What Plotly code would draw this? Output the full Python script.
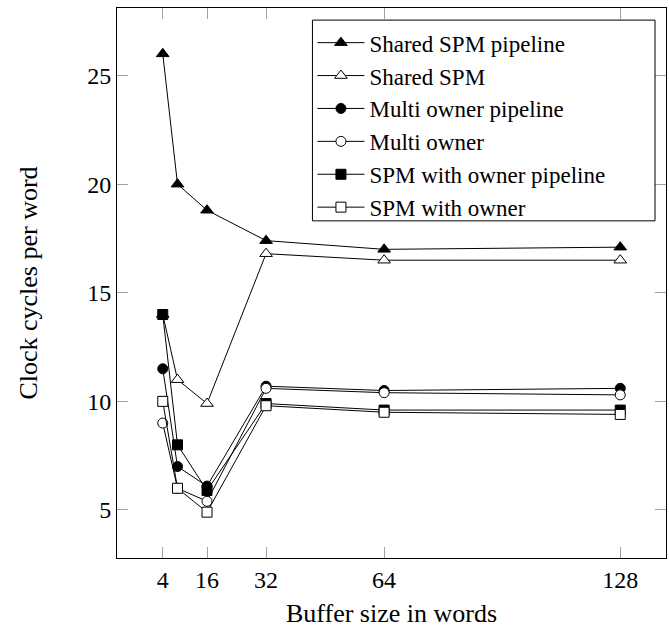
import plotly.graph_objects as go

buffer_sizes = [4, 8, 16, 32, 64, 128]
x_ticks = [4, 16, 32, 64, 128]
y_ticks = [5, 10, 15, 20, 25]

shared_spm_pipeline = [26.0, 20.0, 18.8, 17.4, 17.0, 17.1]
shared_spm = [14.0, 11.0, 9.9, 16.8, 16.5, 16.5]
multi_owner_pipeline = [11.5, 7.0, 6.1, 10.7, 10.5, 10.6]
multi_owner = [9.0, 6.0, 5.4, 10.6, 10.4, 10.3]
spm_owner_pipeline = [14.0, 8.0, 5.9, 9.9, 9.6, 9.6]
spm_owner = [10.0, 6.0, 4.9, 9.8, 9.5, 9.4]

series = [
    ("Shared SPM pipeline", shared_spm_pipeline, "triangle-up", True),
    ("Shared SPM", shared_spm, "triangle-up", False),
    ("Multi owner pipeline", multi_owner_pipeline, "circle", True),
    ("Multi owner", multi_owner, "circle", False),
    ("SPM with owner pipeline", spm_owner_pipeline, "square", True),
    ("SPM with owner", spm_owner, "square", False),
]

fig = go.Figure()
for name, vals, sym, filled in series:
    size = 11 if sym == "triangle-up" else 10
    fig.add_trace(go.Scatter(
        x=buffer_sizes, y=vals, name=name, mode="lines+markers",
        line=dict(color="black", width=1),
        marker=dict(symbol=sym, size=size,
                    color="black" if filled else "white",
                    line=dict(color="black", width=1)),
    ))

SERIF = "Liberation Serif"

# legend frame drawn as a decoration box (paper coordinates)
fig.add_shape(type="rect", xref="paper", yref="paper",
              x0=0.356, x1=0.980, y0=0.613, y1=0.978,
              line=dict(color="black", width=1), fillcolor="white", layer="above")

fig.update_layout(
    width=669, height=628,
    margin=dict(l=117, r=3, t=8, b=70),
    paper_bgcolor="white", plot_bgcolor="white",
    font=dict(family=SERIF, size=24, color="black"),
    showlegend=True,
    legend=dict(
        x=0.356, y=0.976, xanchor="left", yanchor="top",
        bgcolor="rgba(0,0,0,0)", borderwidth=0,
        font=dict(family=SERIF, size=23, color="black"),
        itemwidth=47, tracegroupgap=0,
    ),
    xaxis=dict(
        range=[-8.4, 140.4], tickvals=x_ticks, ticktext=[str(v) for v in x_ticks],
        showgrid=False, zeroline=False,
        showline=True, linecolor="black", linewidth=1, mirror="ticks",
        ticks="inside", ticklen=11, tickcolor="#a0a0a0", tickwidth=1,
        tickfont=dict(family=SERIF, size=24, color="black"),
        title=dict(text="Buffer size in words", font=dict(family=SERIF, size=26, color="black"), standoff=12),
    ),
    yaxis=dict(
        range=[2.79, 28.11], tickvals=y_ticks, ticktext=[str(v) for v in y_ticks],
        showgrid=False, zeroline=False,
        showline=True, linecolor="black", linewidth=1, mirror="ticks",
        ticks="inside", ticklen=11, tickcolor="#a0a0a0", tickwidth=1,
        tickfont=dict(family=SERIF, size=24, color="black"),
        title=dict(text="Clock cycles per word", font=dict(family=SERIF, size=26, color="black"), standoff=42),
    ),
)

fig.write_html("out.html", config={"displayModeBar": False},
               post_script="document.body.style.margin='0';")
